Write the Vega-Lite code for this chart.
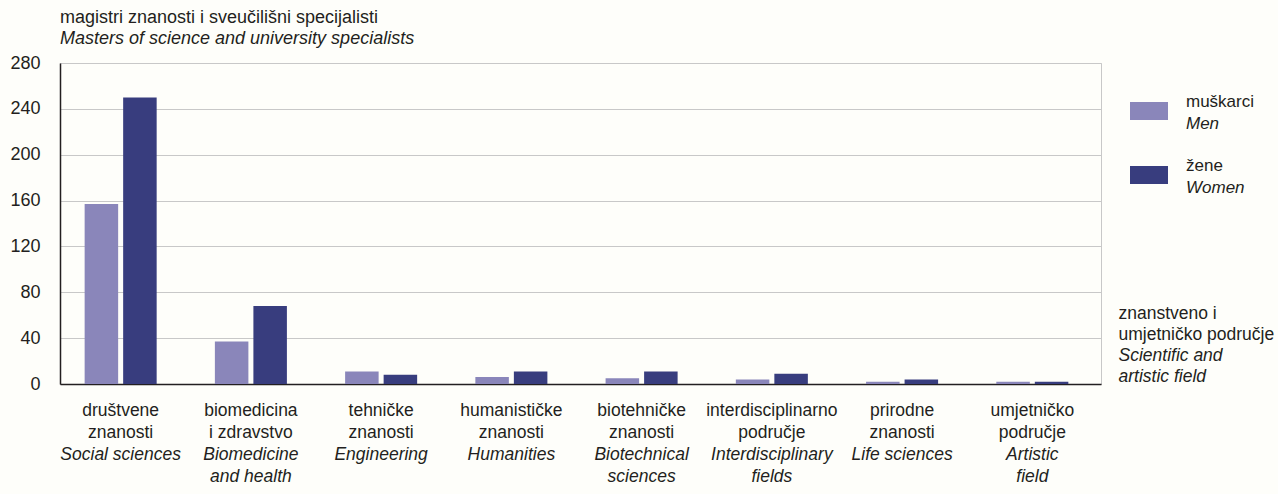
{
  "$schema": "https://vega.github.io/schema/vega-lite/v6.json",
  "width": 1041,
  "height": 321,
  "autosize": {"type": "none"},
  "padding": {"left": 60, "top": 63, "right": 177, "bottom": 110},
  "background": "#fefefa",
  "config": {
    "font": "Liberation Sans",
    "view": {"stroke": "#c8c8c8", "strokeWidth": 1},
    "axis": {"labelColor": "#231f20", "titleColor": "#231f20", "labelFont": "Liberation Sans", "titleFont": "Liberation Sans"},
    "legend": {"labelFont": "Liberation Sans"}
  },
  "title": {
    "text": "magistri znanosti i sveučilišni specijalisti",
    "subtitle": "Masters of science and university specialists",
    "anchor": "start",
    "frame": "group",
    "fontSize": 18,
    "fontWeight": "normal",
    "color": "#231f20",
    "subtitleFontSize": 18,
    "subtitleFontStyle": "italic",
    "subtitleColor": "#231f20",
    "subtitlePadding": 3,
    "offset": 6
  },
  "data": {
    "values": [
      {"field": "društvene znanosti", "sex": "muškarci", "sex_en": "Men", "count": 157},
      {"field": "društvene znanosti", "sex": "žene", "sex_en": "Women", "count": 250},
      {"field": "biomedicina i zdravstvo", "sex": "muškarci", "sex_en": "Men", "count": 37},
      {"field": "biomedicina i zdravstvo", "sex": "žene", "sex_en": "Women", "count": 68},
      {"field": "tehničke znanosti", "sex": "muškarci", "sex_en": "Men", "count": 11},
      {"field": "tehničke znanosti", "sex": "žene", "sex_en": "Women", "count": 8},
      {"field": "humanističke znanosti", "sex": "muškarci", "sex_en": "Men", "count": 6},
      {"field": "humanističke znanosti", "sex": "žene", "sex_en": "Women", "count": 11},
      {"field": "biotehničke znanosti", "sex": "muškarci", "sex_en": "Men", "count": 5},
      {"field": "biotehničke znanosti", "sex": "žene", "sex_en": "Women", "count": 11},
      {"field": "interdisciplinarno područje", "sex": "muškarci", "sex_en": "Men", "count": 4},
      {"field": "interdisciplinarno područje", "sex": "žene", "sex_en": "Women", "count": 9},
      {"field": "prirodne znanosti", "sex": "muškarci", "sex_en": "Men", "count": 2},
      {"field": "prirodne znanosti", "sex": "žene", "sex_en": "Women", "count": 4},
      {"field": "umjetničko područje", "sex": "muškarci", "sex_en": "Men", "count": 2},
      {"field": "umjetničko područje", "sex": "žene", "sex_en": "Women", "count": 2}
    ]
  },
  "layer": [
    {
      "mark": {"type": "bar", "strokeWidth": 0},
      "encoding": {
        "x": {
          "field": "field", "type": "nominal", "sort": null,
          "scale": {"paddingInner": 0.447, "paddingOuter": 0.22, "align": 0.43},
          "axis": {
            "orient": "bottom",
            "title": ["znanstveno i", "umjetničko područje"],
            "titleX": 1058, "titleY": -66,
            "titleAlign": "left", "titleBaseline": "alphabetic", "titleAngle": 0,
            "titleFontSize": 17.5, "titleFontWeight": "normal", "titleLineHeight": 21.3,
            "labelExpr": "[substring(datum.label, 0, indexof(datum.label, ' ')), substring(datum.label, indexof(datum.label, ' ') + 1)]",
            "labelAngle": 0, "labelFontSize": 17.5, "labelLineHeight": 22,
            "labelBaseline": "top", "labelAlign": "center", "labelPadding": 17,
            "labelOverlap": false,
            "ticks": false, "grid": false,
            "domainColor": "#231f20", "domainWidth": 1.5
          }
        },
        "xOffset": {"field": "sex", "type": "nominal", "sort": null, "scale": {"paddingInner": 0.13, "paddingOuter": 0}},
        "y": {
          "field": "count", "type": "quantitative",
          "scale": {"domain": [0, 280], "nice": false},
          "axis": {
            "values": [0, 40, 80, 120, 160, 200, 240, 280],
            "title": null, "labelFontSize": 18, "labelPadding": 20,
            "ticks": false, "tickSize": 0,
            "domainColor": "#231f20", "domainWidth": 1.5,
            "gridColor": "#c8c8c8", "gridWidth": 1
          }
        },
        "color": {
          "field": "sex", "type": "nominal", "sort": null,
          "scale": {"range": ["#8a86ba", "#383d7e"]},
          "legend": {
            "title": null, "orient": "none", "direction": "vertical",
            "legendX": 1070, "legendY": 39,
            "symbolType": "M-1,-0.47H1V0.47H-1Z", "symbolSize": 1444, "symbolStrokeWidth": 0,
            "labelFontSize": 17, "labelOffset": 18, "labelBaseline": "bottom", "labelColor": "#231f20",
            "clipHeight": 18, "rowPadding": 37, "padding": 0
          }
        },
        "stroke": {
          "field": "sex_en", "type": "nominal", "sort": null,
          "scale": {"range": ["transparent", "transparent"]},
          "legend": {
            "title": null, "orient": "none", "direction": "vertical",
            "legendX": 1070, "legendY": 61,
            "symbolType": "M-1,-0.47H1V0.47H-1Z", "symbolSize": 1444, "symbolOpacity": 0, "symbolStrokeWidth": 0,
            "symbolFillColor": "transparent",
            "labelFontSize": 17, "labelOffset": 18, "labelBaseline": "bottom", "labelColor": "#231f20",
            "labelFontStyle": "italic",
            "clipHeight": 18, "rowPadding": 37, "padding": 0
          }
        }
      }
    },
    {
      "mark": {"type": "bar", "opacity": 0},
      "encoding": {
        "x": {
          "field": "field", "type": "nominal", "sort": null,
          "scale": {"paddingInner": 0.447, "paddingOuter": 0.22, "align": 0.43},
          "axis": {
            "orient": "bottom",
            "title": ["Scientific and", "artistic field"],
            "titleX": 1058, "titleY": -24,
            "titleAlign": "left", "titleBaseline": "alphabetic", "titleAngle": 0,
            "titleFontSize": 17.5, "titleFontWeight": "normal", "titleFontStyle": "italic", "titleLineHeight": 21.3,
            "labelExpr": "{'društvene znanosti': ['Social sciences'], 'biomedicina i zdravstvo': ['Biomedicine', 'and health'], 'tehničke znanosti': ['Engineering'], 'humanističke znanosti': ['Humanities'], 'biotehničke znanosti': ['Biotechnical', 'sciences'], 'interdisciplinarno područje': ['Interdisciplinary', 'fields'], 'prirodne znanosti': ['Life sciences'], 'umjetničko područje': ['Artistic', 'field']}[datum.label]",
            "labelAngle": 0, "labelFontSize": 17.5, "labelLineHeight": 22, "labelFontStyle": "italic",
            "labelBaseline": "top", "labelAlign": "center", "labelPadding": 61,
            "labelOverlap": false,
            "ticks": false, "grid": false, "domain": false
          }
        }
      }
    }
  ],
  "resolve": {"axis": {"x": "independent"}}
}
